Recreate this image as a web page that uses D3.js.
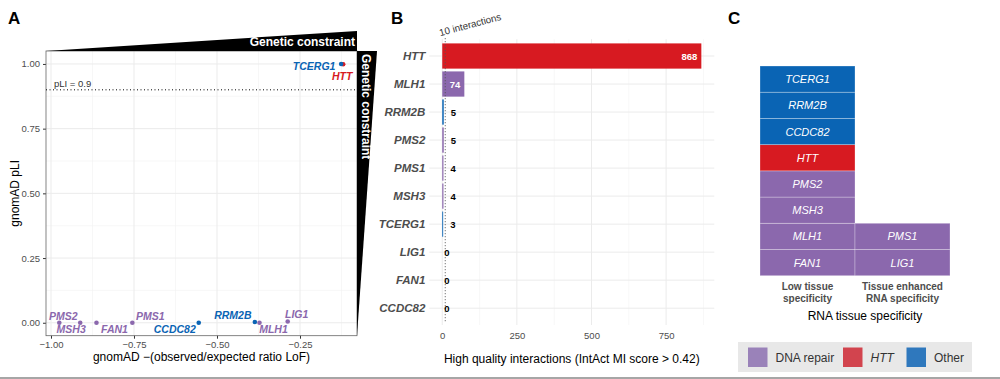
<!DOCTYPE html>
<html><head><meta charset="utf-8">
<script src="https://cdn.jsdelivr.net/npm/d3@7"></script>
<style>
html,body{margin:0;padding:0;background:#fff;}
svg{display:block;font-family:"Liberation Sans",Arial,Helvetica,sans-serif;}
</style></head>
<body>
<svg id="chart" width="1000" height="379"></svg>
<script>
// ---------- DATA ----------
// Panel A: gnomAD constraint
const aGenes = ["PMS2","MSH3","FAN1","PMS1","CCDC82","RRM2B","MLH1","LIG1","HTT","TCERG1"];
const aOE    = [-0.975,-0.912,-0.863,-0.755,-0.555,-0.386,-0.372,-0.287,-0.120,-0.126];
const aPLI   = [0.0,0.0,0.0,0.0,0.0,0.003,0.0,0.005,0.999,1.0];
const aGroup = ["DNA repair","DNA repair","DNA repair","DNA repair","Other","Other","DNA repair","DNA repair","HTT","Other"];
const aXTicks = [-1.00,-0.75,-0.50,-0.25];
const aYTicks = [0.00,0.25,0.50,0.75,1.00];
const pliThreshold = 0.9;

// Panel B: IntAct interactions
const bGenes  = ["HTT","MLH1","RRM2B","PMS2","PMS1","MSH3","TCERG1","LIG1","FAN1","CCDC82"];
const bValues = [868,74,5,5,4,4,3,0,0,0];
const bGroup  = ["HTT","DNA repair","Other","DNA repair","DNA repair","DNA repair","Other","DNA repair","DNA repair","Other"];
const bXTicks = [0,250,500,750];
const bThreshold = 10;

// Panel C: RNA tissue specificity
const cGenes = ["FAN1","MLH1","MSH3","PMS2","HTT","CCDC82","RRM2B","TCERG1","LIG1","PMS1"];
const cSpec  = ["Low","Low","Low","Low","Low","Low","Low","Low","Enhanced","Enhanced"];
const cGroup = ["DNA repair","DNA repair","DNA repair","DNA repair","HTT","Other","Other","Other","DNA repair","DNA repair"];
const cCategories = ["Low","Enhanced"];
const cCatLabels = [["Low tissue","specificity"],["Tissue enhanced","RNA specificity"]];

const legendGroups = ["DNA repair","HTT","Other"];

// ---------- STYLE ----------
const colors = {"DNA repair":"#8b68ad","HTT":"#d71a21","Other":"#0a64b4"};
const legendColors = {"DNA repair":"#9a82b9","HTT":"#d2444e","Other":"#2f78bd"};
const svg = d3.select("#chart");
const gridCol = "#ebebeb", tickCol = "#4d4d4d";

// panel letters
[["A",8],["B",391],["C",728]].forEach(([t,x])=>{
  svg.append("text").attr("x",x).attr("y",24).attr("font-size",17).attr("font-weight","bold").text(t);
});

// ============ PANEL A ============
const aL=46,aR=357,aT=51,aB=335.7;
const xA = d3.scaleLinear().domain([-1.01506,-0.0783]).range([aL,aR]);
const yA = d3.scaleLinear().domain([-0.05,1.05]).range([aB,aT]);
const gA = svg.append("g");
const xMinor = aXTicks.map(v=>v+0.125), yMinor = aYTicks.slice(0,4).map(v=>v+0.125);
gA.selectAll(".xmin").data(xMinor).join("line").attr("x1",d=>xA(d)).attr("x2",d=>xA(d)).attr("y1",aT).attr("y2",aB).attr("stroke","#f2f2f2").attr("stroke-width",0.6);
gA.selectAll(".ymin").data(yMinor).join("line").attr("y1",d=>yA(d)).attr("y2",d=>yA(d)).attr("x1",aL).attr("x2",aR).attr("stroke","#f2f2f2").attr("stroke-width",0.6);
gA.selectAll(".xmaj").data(aXTicks).join("line").attr("x1",d=>xA(d)).attr("x2",d=>xA(d)).attr("y1",aT).attr("y2",aB).attr("stroke",gridCol).attr("stroke-width",1);
gA.selectAll(".ymaj").data(aYTicks).join("line").attr("y1",d=>yA(d)).attr("y2",d=>yA(d)).attr("x1",aL).attr("x2",aR).attr("stroke",gridCol).attr("stroke-width",1);
const fmt2 = d3.format(".2f");
const axA_x = gA.append("g").attr("transform",`translate(0,${aB})`).call(d3.axisBottom(xA).tickValues(aXTicks).tickFormat(fmt2).tickSize(3).tickPadding(3));
const axA_y = gA.append("g").attr("transform",`translate(${aL},0)`).call(d3.axisLeft(yA).tickValues(aYTicks).tickFormat(fmt2).tickSize(3).tickPadding(3));
[axA_x,axA_y].forEach(ax=>{
  ax.select(".domain").remove();
  ax.selectAll(".tick line").attr("stroke","#333");
  ax.selectAll("text").attr("fill",tickCol).attr("font-size",9.5).attr("font-family","Liberation Sans, Arial, sans-serif");
});
gA.append("rect").attr("x",aL).attr("y",aT).attr("width",aR-aL).attr("height",aB-aT).attr("fill","none").attr("stroke","#666").attr("stroke-width",0.8);
gA.append("line").attr("x1",aL).attr("x2",aR).attr("y1",yA(pliThreshold)).attr("y2",yA(pliThreshold)).attr("stroke","#000").attr("stroke-width",1).attr("stroke-dasharray","1,2.5");
gA.append("text").attr("x",aL+8).attr("y",yA(pliThreshold)-3).attr("font-size",9.5).attr("fill","#333").text("pLI = "+pliThreshold);
const aData = aGenes.map((g,i)=>({gene:g,x:aOE[i],y:aPLI[i],grp:aGroup[i]}));
gA.selectAll(".pt").data(aData).join("circle").attr("cx",d=>xA(d.x)).attr("cy",d=>yA(d.y)).attr("r",2.3).attr("fill",d=>colors[d.grp]);
// repelled label offsets (layout only)
const aLabelOffset = {PMS2:[4,-7],MSH3:[-9,6],FAN1:[18,6],PMS1:[18,-7],CCDC82:[-24,6],RRM2B:[-22,-7],MLH1:[14,6],LIG1:[9,-7],TCERG1:[-27,2],HTT:[-1,12]};
gA.selectAll(".lab").data(aData).join("text")
  .attr("x",d=>xA(d.x)+aLabelOffset[d.gene][0]).attr("y",d=>yA(d.y)+aLabelOffset[d.gene][1])
  .attr("text-anchor","middle").attr("dominant-baseline","central")
  .attr("font-size",10.5).attr("font-weight","bold").attr("font-style","italic")
  .attr("fill",d=>colors[d.grp]).text(d=>d.gene);
gA.append("path").attr("d",`M${aL},${aT}L${aR},${aT-20}L${aR},${aT}Z`).attr("fill","#000");
gA.append("text").attr("x",aR-2).attr("y",aT-5).attr("text-anchor","end").attr("font-size",12).attr("font-weight","bold").attr("fill","#fff").text("Genetic constraint");
gA.append("path").attr("d",`M${aR},${aT}L${aR+20},${aT}L${aR},${aB}Z`).attr("fill","#000");
gA.append("text").attr("transform",`translate(${aR+4.5},${aT+3}) rotate(90)`).attr("font-size",12).attr("font-weight","bold").attr("fill","#fff").text("Genetic constraint");
gA.append("text").attr("x",(aL+aR)/2).attr("y",361).attr("text-anchor","middle").attr("font-size",12).attr("fill","#000").text("gnomAD \u2212(observed/expected ratio LoF)");
gA.append("text").attr("transform",`translate(19,${(aT+aB)/2}) rotate(-90)`).attr("text-anchor","middle").attr("font-size",12).attr("fill","#000").text("gnomAD pLI");

// ============ PANEL B ============
const bL=429.3,bR=714.3,bT=39.2,bB=325;
const xB = d3.scaleLinear().domain([-43.4,911.4]).range([bL,bR]);
const yB = d3.scaleBand().domain(bGenes).range([bT,bB]).paddingInner(0.1).paddingOuter(0.15);
const gB = svg.append("g");
const bMinor = bXTicks.map(v=>v+125);
gB.selectAll(".xmin").data(bMinor).join("line").attr("x1",d=>xB(d)).attr("x2",d=>xB(d)).attr("y1",bT).attr("y2",bB).attr("stroke","#f2f2f2").attr("stroke-width",0.6);
gB.selectAll(".xmaj").data(bXTicks).join("line").attr("x1",d=>xB(d)).attr("x2",d=>xB(d)).attr("y1",bT).attr("y2",bB).attr("stroke",gridCol).attr("stroke-width",1);
gB.selectAll(".ymaj").data(bGenes).join("line").attr("y1",d=>yB(d)+yB.bandwidth()/2).attr("y2",d=>yB(d)+yB.bandwidth()/2).attr("x1",bL).attr("x2",bR).attr("stroke",gridCol).attr("stroke-width",1);
const bData = bGenes.map((g,i)=>({gene:g,v:bValues[i],grp:bGroup[i]}));
gB.selectAll(".bar").data(bData).join("rect")
  .attr("x",xB(0)).attr("y",d=>yB(d.gene)).attr("width",d=>xB(d.v)-xB(0)).attr("height",yB.bandwidth())
  .attr("fill",d=>colors[d.grp]);
gB.append("line").attr("x1",xB(bThreshold)).attr("x2",xB(bThreshold)).attr("y1",bT-1).attr("y2",bB-3).attr("stroke","#555").attr("stroke-width",1).attr("stroke-dasharray","1,2");
gB.append("text").attr("transform",`translate(${xB(0)-2},${bT-3}) rotate(-15)`).attr("font-size",9.8).attr("fill","#333").text(bThreshold+" interactions");
gB.selectAll(".val").data(bData).join("text")
  .attr("x",d=>d.v>50? xB(d.v)-4 : xB(d.v)+(d.v===0?2:7))
  .attr("y",d=>yB(d.gene)+yB.bandwidth()/2).attr("dominant-baseline","central")
  .attr("text-anchor",d=>d.v>50?"end":"start")
  .attr("font-size",9.5).attr("font-weight","bold").attr("fill",d=>d.v>50?"#fff":"#000").text(d=>d.v);
const axB_x = gB.append("g").attr("transform",`translate(0,${bB})`).call(d3.axisBottom(xB).tickValues(bXTicks).tickSize(0).tickPadding(7));
const axB_y = gB.append("g").attr("transform",`translate(${bL},0)`).call(d3.axisLeft(yB).tickSize(0).tickPadding(4));
[axB_x,axB_y].forEach(ax=>{ax.select(".domain").remove(); ax.selectAll("text").attr("fill",tickCol).attr("font-family","Liberation Sans, Arial, sans-serif");});
axB_x.selectAll("text").attr("font-size",9.5);
axB_y.selectAll("text").attr("font-size",11.5).attr("font-weight","bold").attr("font-style","italic");
gB.append("text").attr("x",(bL+bR)/2).attr("y",363).attr("text-anchor","middle").attr("font-size",12).attr("fill","#000").text("High quality interactions (IntAct MI score > 0.42)");

// ============ PANEL C ============
const gC = svg.append("g");
const xC = d3.scaleBand().domain(cCategories).range([760,950]);
const yC = d3.scaleBand().domain(d3.range(8)).range([275.7,66]);
const stackIdx = {};
const cData = cGenes.map((g,i)=>{const k=cSpec[i]; stackIdx[k]=(stackIdx[k]||0); const r=stackIdx[k]++; return {gene:g,spec:k,grp:cGroup[i],row:r};});
gC.selectAll(".tile").data(cData).join("rect")
  .attr("x",d=>xC(d.spec)).attr("y",d=>yC(d.row)).attr("width",xC.bandwidth()).attr("height",yC.bandwidth())
  .attr("fill",d=>colors[d.grp]).attr("stroke","rgba(255,255,255,0.35)").attr("stroke-width",0.8);
gC.selectAll(".tl").data(cData).join("text")
  .attr("x",d=>xC(d.spec)+xC.bandwidth()/2).attr("y",d=>yC(d.row)+yC.bandwidth()/2)
  .attr("text-anchor","middle").attr("dominant-baseline","central")
  .attr("font-size",11).attr("font-style","italic").attr("fill","#fff").text(d=>d.gene);
cCategories.forEach((c,i)=>{
  const t = gC.append("text").attr("text-anchor","middle").attr("font-size",10).attr("font-weight","bold").attr("fill","#4d4d4d");
  cCatLabels[i].forEach((ln,j)=>t.append("tspan").attr("x",xC(c)+xC.bandwidth()/2).attr("y",289.5+j*12).text(ln));
});
gC.append("text").attr("x",865).attr("y",319.5).attr("text-anchor","middle").attr("font-size",12).attr("fill","#000").text("RNA tissue specificity");

// legend
const gL = svg.append("g");
gL.append("rect").attr("x",738).attr("y",342).attr("width",234).attr("height",30).attr("fill","#e8e8e8");
const legX = [748,843,906.5];
legendGroups.forEach((g,i)=>{
  gL.append("rect").attr("x",legX[i]).attr("y",347.5).attr("width",19.5).attr("height",19.5).attr("fill",legendColors[g]);
  gL.append("text").attr("x",legX[i]+27.5).attr("y",357.5).attr("dominant-baseline","central").attr("font-size",12).attr("fill","#333")
    .attr("font-style",g==="HTT"?"italic":"normal").text(g);
});

svg.append("line").attr("x1",0).attr("x2",1000).attr("y1",378).attr("y2",378).attr("stroke","#888").attr("stroke-width",1.5);
</script>
</body></html>
